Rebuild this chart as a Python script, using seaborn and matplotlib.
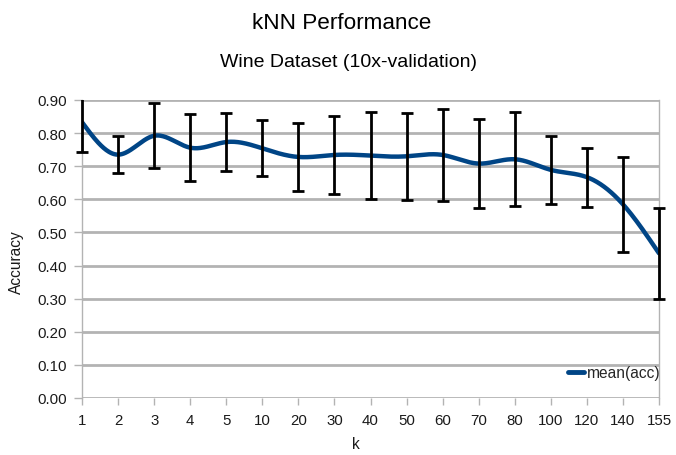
import numpy as np
import pandas as pd
import matplotlib
matplotlib.use("Agg")
import matplotlib.pyplot as plt
import seaborn as sns
from matplotlib.patches import Rectangle

# ---- data ----
k_labels = ["1", "2", "3", "4", "5", "10", "20", "30", "40", "50", "60",
            "70", "80", "100", "120", "140", "155"]
mean_acc = [0.833, 0.735, 0.792, 0.756, 0.773, 0.754, 0.728, 0.734, 0.732,
            0.730, 0.734, 0.708, 0.721, 0.689, 0.667, 0.585, 0.437]
std_acc = [0.090, 0.056, 0.098, 0.101, 0.088, 0.085, 0.103, 0.119, 0.131,
           0.132, 0.139, 0.134, 0.142, 0.102, 0.089, 0.143, 0.137]
y_ticks = [0.0, 0.1, 0.2, 0.3, 0.4, 0.5, 0.6, 0.7, 0.8, 0.9]

LINE_COLOR = "#004586"
GRID_COLOR = "#b3b3b3"
TEXT_COLOR = "#1a1a1a"


def natural_spline(x, y, per_seg=40):
    """Natural cubic spline used only to render the smoothed line."""
    x = np.asarray(x, float)
    y = np.asarray(y, float)
    n = len(x)
    h = np.diff(x)
    A = np.zeros((n, n))
    r = np.zeros(n)
    A[0, 0] = 1.0
    A[-1, -1] = 1.0
    for i in range(1, n - 1):
        A[i, i - 1] = h[i - 1]
        A[i, i] = 2 * (h[i - 1] + h[i])
        A[i, i + 1] = h[i]
        r[i] = 6 * ((y[i + 1] - y[i]) / h[i] - (y[i] - y[i - 1]) / h[i - 1])
    M = np.linalg.solve(A, r)
    xs, ys = [], []
    for i in range(n - 1):
        t = np.linspace(x[i], x[i + 1], per_seg, endpoint=(i == n - 2))
        a = (x[i + 1] - t) / h[i]
        b = (t - x[i]) / h[i]
        s = a * y[i] + b * y[i + 1] + ((a ** 3 - a) * M[i] + (b ** 3 - b) * M[i + 1]) * h[i] ** 2 / 6
        xs.append(t)
        ys.append(s)
    return np.concatenate(xs), np.concatenate(ys)


sns.set_theme(style="white")
plt.rcParams["font.family"] = ["Liberation Sans", "DejaVu Sans"]

fig = plt.figure(figsize=(6.76, 4.56), dpi=100)
ax = fig.add_axes([82 / 676, 1 - 399 / 456, (659 - 82) / 676, (399 - 101) / 456])

pos = np.arange(len(k_labels))
sx, sy = natural_spline(pos, mean_acc)
df = pd.DataFrame({"pos": sx, "acc": sy})

# grid lines
ax.set_axisbelow(True)
ax.yaxis.grid(True, color=GRID_COLOR, linewidth=2.0)
ax.xaxis.grid(False)

sns.lineplot(data=df, x="pos", y="acc", ax=ax, color=LINE_COLOR,
             linewidth=3.2, label="mean(acc)", sort=False, zorder=3)

eb = ax.errorbar(pos, mean_acc, yerr=std_acc, fmt="none", ecolor="black",
                 elinewidth=2.0, capsize=4.0, capthick=2.0, zorder=4)
# clip error bars vertically to the plot area, but not horizontally
clip_rect = Rectangle((-0.05, 0.0), 1.1, 1.0,
                      transform=ax.transAxes, facecolor="none", edgecolor="none")
ax.add_patch(clip_rect)
for art in list(eb.lines[1]) + list(eb.lines[2]):
    art.set_clip_path(clip_rect)

ax.set_xlim(0, len(k_labels) - 1)
ax.set_ylim(0, 0.9)
ax.set_xticks(pos)
ax.set_xticklabels(k_labels)
ax.set_yticks(y_ticks)
ax.set_yticklabels([f"{v:.2f}" for v in y_ticks])

for s in ["top", "bottom"]:
    ax.spines[s].set_visible(False)
for s in ["left", "right"]:
    ax.spines[s].set_visible(True)
    ax.spines[s].set_color(GRID_COLOR)
    ax.spines[s].set_linewidth(1.0)

ax.tick_params(axis="both", which="major", direction="out", color=GRID_COLOR,
               width=1.0, labelsize=10.8, labelcolor=TEXT_COLOR, left=True, bottom=True)
ax.tick_params(axis="y", length=6, pad=5)
ax.tick_params(axis="x", length=5, pad=6)

ax.set_xlabel("")
ax.set_ylabel("")
fig.text(16 / 676, 1 - 262 / 456, "Accuracy", rotation=90, ha="center", va="center",
         fontsize=11.2, color=TEXT_COLOR)
fig.text(355.5 / 676, 1 - 445 / 456, "k", ha="center", va="center",
         fontsize=11.2, color=TEXT_COLOR)

fig.text(342 / 676, 1 - 29 / 456, "kNN Performance", ha="center", va="baseline",
         fontsize=16.2, color="black")
fig.text(348.5 / 676, 1 - 67 / 456, "Wine Dataset (10x-validation)", ha="center",
         va="baseline", fontsize=14, color="black")

leg = ax.legend(loc="center right", bbox_to_anchor=(1.003, 0.084), frameon=False,
                fontsize=11.2, handlelength=1.0, handletextpad=0.2,
                borderaxespad=0, borderpad=0)
for line in leg.get_lines():
    line.set_linewidth(3.5)

fig.savefig("out.png", dpi=100)
